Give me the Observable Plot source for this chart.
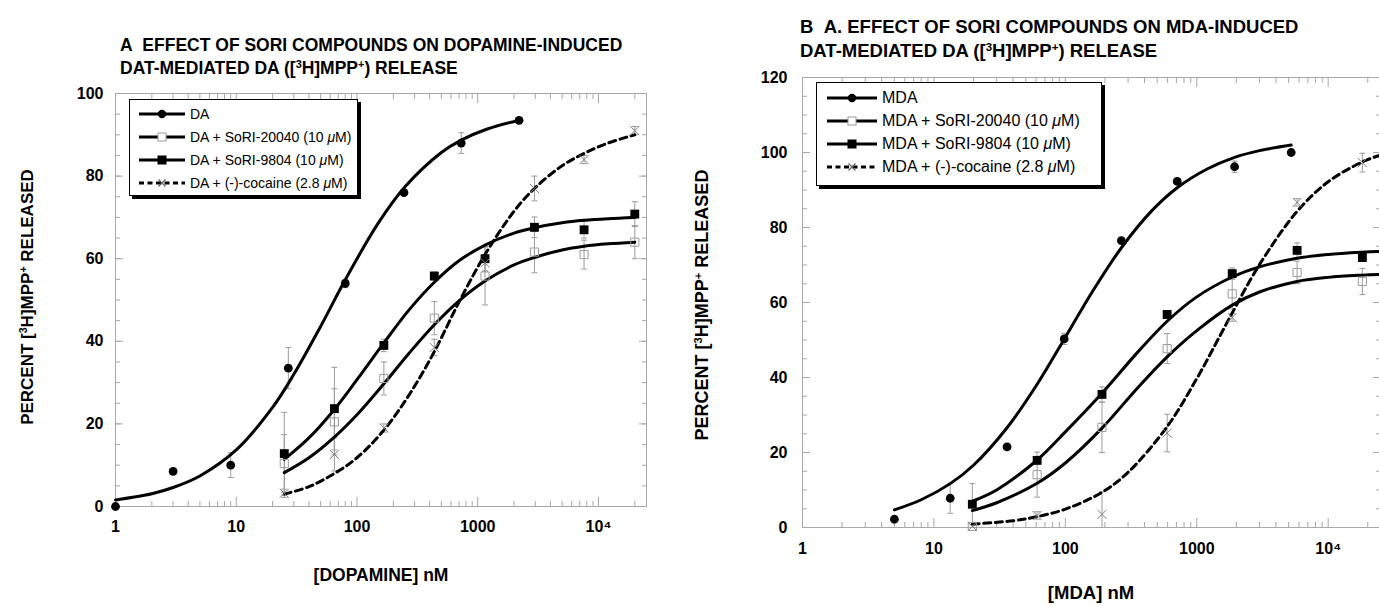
<!DOCTYPE html>
<html>
<head>
<meta charset="utf-8">
<script src="https://cdn.jsdelivr.net/npm/d3@7"></script>
<script src="https://cdn.jsdelivr.net/npm/@observablehq/plot@0.6"></script>
<style>
  html, body { margin: 0; padding: 0; background: #fff; }
  body { width: 1379px; height: 606px; position: relative; overflow: hidden;
         font-family: "Liberation Sans", Arial, Helvetica, sans-serif; color: #000; }
  .abs { position: absolute; white-space: nowrap; }
  .title { font-weight: bold; line-height: 23px; }
  .axis-title { font-weight: bold; line-height: 20px; }
  .sup { font-size: 62%; position: relative; top: -0.55em; }
  .legend { position: absolute; background: #fff; border: 1px solid #000; box-shadow: 3px 3px 0 #000; }
  .legend .txt { position: absolute; white-space: nowrap; line-height: 20px; }
  .legend svg { position: absolute; left: 0; overflow: visible; }
</style>
</head>
<body>
<div id="panelA" class="abs" style="left:0;top:0;width:680px;height:606px"></div>
<div id="panelB" class="abs" style="left:690px;top:0;width:700px;height:606px"></div>

<div class="abs title" style="left:120px;top:34px;font-size:17.5px">A&nbsp;&nbsp;EFFECT OF SORI COMPOUNDS ON DOPAMINE-INDUCED<br>DAT-MEDIATED DA ([<span class="sup">3</span>H]MPP<span class="sup">+</span>) RELEASE</div>
<div class="abs title" style="left:800px;top:15px;font-size:18.5px;line-height:24px">B&nbsp;&nbsp;A. EFFECT OF SORI COMPOUNDS ON MDA-INDUCED<br>DAT-MEDIATED DA ([<span class="sup">3</span>H]MPP<span class="sup">+</span>) RELEASE</div>

<div class="abs axis-title" style="left:381px;top:565px;font-size:17.5px;transform:translateX(-50%)">[DOPAMINE] nM</div>
<div class="abs axis-title" style="left:1091px;top:583px;font-size:18.5px;transform:translateX(-50%)">[MDA] nM</div>

<div class="abs axis-title" style="left:28px;top:297px;font-size:17px;transform:translate(-50%,-50%) rotate(-90deg)">PERCENT [<span class="sup">3</span>H]MPP<span class="sup">+</span> RELEASED</div>
<div class="abs axis-title" style="left:703px;top:305px;font-size:18px;transform:translate(-50%,-50%) rotate(-90deg)">PERCENT [<span class="sup">3</span>H]MPP<span class="sup">+</span> RELEASED</div>

<script>
// ---------------- Panel A: dopamine-induced release (nM, % released) ----------------
const daConc = [1, 3, 9, 27, 80, 245, 730, 2200];
const daVal  = [0, 8.5, 10, 33.5, 54, 76, 88, 93.5];
const daErr  = [0, 0, 3, 5, 1, 0, 2.5, 0];

const inhConcA = [25, 65, 167, 437, 1150, 2950, 7600, 20000];
const sori20040A    = [10.4, 20.5, 31, 45.6, 55.8, 61.6, 61, 64];
const sori20040AErr = [7, 8, 4, 4, 7, 5, 3.5, 4];
const sori9804A     = [12.8, 23.7, 39, 55.8, 60, 67.6, 67, 70.8];
const sori9804AErr  = [10, 10, 1.5, 1, 3, 2.5, 2, 3];
const cocaineA      = [3.2, 12.6, 19, 38.5, 59, 77, 84, 91];
const cocaineAErr   = [1, 4, 1, 2, 2, 3, 1, 1];

// fitted dose-response curves, read at these concentrations
const daFitConc = [1, 2, 3, 5, 10, 20, 30, 50, 80, 150, 250, 500, 730, 1200, 2200];
const daFitVal  = [1.6, 3.1, 4.6, 7.4, 13.7, 24, 32, 43.6, 54.9, 68.6, 77.4, 85.7, 88.7, 91.4, 93.5];
const inhFitConcA = [25, 40, 65, 100, 167, 270, 437, 700, 1150, 2000, 2950, 5000, 7600, 12000, 20000];
const sori20040AFit = [8.2, 11.8, 16.8, 22.2, 29.7, 37.1, 44, 49.8, 54.6, 58.5, 60.3, 62.1, 63, 63.6, 64];
const sori9804AFit  = [11.4, 16.6, 23.5, 30.7, 39.6, 47.6, 54.3, 59.5, 63.3, 66.2, 67.5, 68.7, 69.3, 69.7, 70];
const cocaineAFit   = [3, 4.8, 8, 11.8, 18.5, 27, 37.5, 49.5, 61, 71.5, 77, 82.5, 85.5, 88, 90];

const labelsA = ["DA", "DA + SoRI-20040 (10 μM)", "DA + SoRI-9804 (10 μM)", "DA + (-)-cocaine (2.8 μM)"];

// ---------------- Panel B: MDA-induced release ----------------
const mdaConc = [5, 13.3, 36, 98, 267, 710, 1940, 5230];
const mdaVal  = [2.2, 7.8, 21.5, 50.3, 76.5, 92.3, 96.2, 100];
const mdaErr  = [0, 4, 0, 1.5, 0, 0, 1.5, 0];

const inhConcB = [19.6, 61, 190, 595, 1860, 5800, 18200];
const sori20040B    = [0.3, 14.1, 26.7, 47.7, 62.3, 68, 65.6];
const sori20040BErr = [0, 6, 6.7, 4, 4, 3, 3.5];
const sori9804B     = [6.2, 17.9, 35.5, 56.8, 67.7, 73.9, 72];
const sori9804BErr  = [5.5, 1, 2, 1, 1.5, 2, 1];
const cocaineB      = [0.3, 3.2, 3.5, 25.2, 56, 86.7, 97.3];
const cocaineBErr   = [0, 1, 6, 5, 1, 1, 2.5];

const mdaFitConc = [5, 8, 13.3, 20, 36, 60, 98, 160, 267, 450, 710, 1200, 1940, 3000, 5230];
const mdaFitVal  = [4.7, 7.4, 11.7, 16.6, 26.6, 37.8, 50.2, 62.8, 74.6, 84.3, 90.6, 95.6, 98.7, 100.5, 102];
const inhFitConcB = [19.6, 30, 61, 100, 190, 350, 595, 1000, 1860, 3000, 5800, 10000, 18200, 25000];
const sori20040BFit = [4.5, 6.6, 11.8, 17.2, 26.5, 37, 45.5, 52.5, 59.3, 62.8, 65.6, 66.7, 67.3, 67.5];
const sori9804BFit  = [7, 10, 18, 25.5, 35.8, 46.5, 55, 61.5, 66.8, 69.5, 71.8, 72.8, 73.4, 73.6];
const cocFitConcB = [19.6, 40, 61, 100, 190, 300, 595, 1000, 1500, 1860, 3000, 5800, 10000, 18200, 25000];
const cocaineBFit = [0.9, 1.8, 2.9, 4.9, 9.4, 14.7, 26.9, 39.7, 51.1, 57.2, 70.1, 84.3, 92.2, 97.5, 99.3];

const labelsB = ["MDA", "MDA + SoRI-20040 (10 μM)", "MDA + SoRI-9804 (10 μM)", "MDA + (-)-cocaine (2.8 μM)"];

// ---------------- axis ticks ----------------
const xMajor = [1, 10, 100, 1000, 10000];
const xMinor = xMajor.flatMap(d => [2, 3, 4, 5, 6, 7, 8, 9].map(k => k * d)).filter(v => v <= 25000);
const xFormat = d => d === 10000 ? "10⁴" : String(d);

// ---------------- drawing ----------------
const GRAY = "#9c9c9c";
const TICK = "#a8a8a8";
const hbar = {draw(ctx, size) { const r = Math.sqrt(size / Math.PI); ctx.moveTo(-r, 0); ctx.lineTo(r, 0); }};

const markers = {
  circle:       {symbol: "circle", r: 4.4, fill: "#000", stroke: "none"},
  openSquare:   {symbol: "square", r: 4.6, fill: "none", stroke: GRAY, strokeWidth: 1},
  filledSquare: {symbol: "square", r: 5, fill: "#000", stroke: "none"},
  times:        {symbol: "times", r: 4.2, fill: "none", stroke: "#808080", strokeWidth: 1}
};

const rows = (conc, val, err) => conc.map((c, i) => ({c, v: val[i], e: err ? err[i] : 0}));

function panel({width, height, marginLeft, marginRight, marginTop, marginBottom, yMax, series, xPad, yPad}) {
  const yMajor = d3.range(0, yMax + 1, 20);
  const yMinor = d3.range(0, yMax + 1, 5);
  const marks = [
    Plot.frame({stroke: TICK}),
    Plot.axisX({ticks: xMinor, anchor: "bottom", tickSize: -5, stroke: TICK, fill: "none", label: null}),
    Plot.axisX({ticks: xMajor, anchor: "bottom", tickSize: -9, stroke: TICK, fill: "none", label: null}),
    Plot.axisX({ticks: xMinor, anchor: "top", tickSize: -5, stroke: TICK, fill: "none", label: null}),
    Plot.axisX({ticks: xMajor, anchor: "top", tickSize: -9, stroke: TICK, fill: "none", label: null}),
    Plot.axisY({ticks: yMinor, anchor: "left", tickSize: -5, stroke: TICK, fill: "none", label: null}),
    Plot.axisY({ticks: yMajor, anchor: "left", tickSize: -8, stroke: TICK, fill: "none", label: null}),
    Plot.axisY({ticks: yMinor, anchor: "right", tickSize: -5, stroke: TICK, fill: "none", label: null}),
    Plot.axisY({ticks: yMajor, anchor: "right", tickSize: -8, stroke: TICK, fill: "none", label: null}),
    Plot.axisX({ticks: xMajor, anchor: "bottom", tickSize: 0, tickPadding: xPad, tickFormat: xFormat, label: null}),
    Plot.axisY({ticks: yMajor, anchor: "left", tickSize: 0, tickPadding: yPad, label: null})
  ];
  for (const s of series) {
    const pts = rows(s.conc, s.val, s.err).filter(d => d.e > 0);
    marks.push(
      Plot.ruleX(pts, {x: "c", y1: d => Math.max(0, d.v - d.e), y2: d => d.v + d.e, stroke: GRAY, strokeWidth: 1}),
      Plot.dot(pts, {x: "c", y: d => d.v + d.e, symbol: hbar, r: 3, stroke: GRAY, strokeWidth: 1}),
      Plot.dot(pts.filter(d => d.v - d.e > 0), {x: "c", y: d => d.v - d.e, symbol: hbar, r: 3, stroke: GRAY, strokeWidth: 1})
    );
  }
  for (const s of series) {
    marks.push(Plot.line(rows(s.fitConc, s.fitVal), {
      x: "c", y: "v", stroke: "#000", strokeWidth: 3, curve: "catmull-rom",
      strokeDasharray: s.dashed ? "7,4.5" : null
    }));
  }
  for (const s of series) {
    marks.push(Plot.dot(rows(s.conc, s.val), {x: "c", y: "v", ...markers[s.marker]}));
  }
  return Plot.plot({
    width, height, marginLeft, marginRight, marginTop, marginBottom,
    x: {type: "log", domain: [1, 25000]},
    y: {domain: [0, yMax]},
    style: {fontFamily: "'Liberation Sans', Arial, sans-serif", fontSize: "16px", fontWeight: "bold",
            color: "#000", background: "transparent", overflow: "visible", maxWidth: "none"},
    marks
  });
}

const seriesA = [
  {conc: daConc, val: daVal, err: daErr, fitConc: daFitConc, fitVal: daFitVal, marker: "circle"},
  {conc: inhConcA, val: sori20040A, err: sori20040AErr, fitConc: inhFitConcA, fitVal: sori20040AFit, marker: "openSquare"},
  {conc: inhConcA, val: sori9804A, err: sori9804AErr, fitConc: inhFitConcA, fitVal: sori9804AFit, marker: "filledSquare"},
  {conc: inhConcA, val: cocaineA, err: cocaineAErr, fitConc: inhFitConcA, fitVal: cocaineAFit, marker: "times", dashed: true}
];
const seriesB = [
  {conc: mdaConc, val: mdaVal, err: mdaErr, fitConc: mdaFitConc, fitVal: mdaFitVal, marker: "circle"},
  {conc: inhConcB, val: sori20040B, err: sori20040BErr, fitConc: inhFitConcB, fitVal: sori20040BFit, marker: "openSquare"},
  {conc: inhConcB, val: sori9804B, err: sori9804BErr, fitConc: inhFitConcB, fitVal: sori9804BFit, marker: "filledSquare"},
  {conc: inhConcB, val: cocaineB, err: cocaineBErr, fitConc: cocFitConcB, fitVal: cocaineBFit, marker: "times", dashed: true}
];

document.getElementById("panelA").append(panel({
  width: 680, height: 606, marginLeft: 115, marginRight: 34, marginTop: 93, marginBottom: 100,
  yMax: 100, series: seriesA, xPad: 14, yPad: 12
}));
document.getElementById("panelB").append(panel({
  width: 700, height: 606, marginLeft: 112, marginRight: 10, marginTop: 77, marginBottom: 79,
  yMax: 120, series: seriesB, xPad: 15, yPad: 15
}));

// ---------------- legends ----------------
function legend({left, top, width, height, rowTop, rowGap, lineX0, lineX1, textX, fontSize}, labels, series) {
  const box = document.createElement("div");
  box.className = "legend";
  Object.assign(box.style, {left: left + "px", top: top + "px", width: width + "px", height: height + "px"});
  labels.forEach((label, i) => {
    const cy = rowTop + i * rowGap;
    const s = series[i];
    const svg = d3.create("svg").attr("width", lineX1 + 4).attr("height", 20).style("top", (cy - 10) + "px");
    svg.append("line").attr("x1", lineX0).attr("x2", lineX1).attr("y1", 10).attr("y2", 10)
      .attr("stroke", "#000").attr("stroke-width", 3).attr("stroke-dasharray", s.dashed ? "5,3.5" : null);
    const mx = (lineX0 + lineX1) / 2;
    if (s.marker === "circle") svg.append("circle").attr("cx", mx).attr("cy", 10).attr("r", 4.2).attr("fill", "#000");
    if (s.marker === "openSquare") svg.append("rect").attr("x", mx - 4).attr("y", 6).attr("width", 8).attr("height", 8)
      .attr("fill", "#fff").attr("stroke", GRAY);
    if (s.marker === "filledSquare") svg.append("rect").attr("x", mx - 4.5).attr("y", 5.5).attr("width", 9).attr("height", 9).attr("fill", "#000");
    if (s.marker === "times") svg.append("path").attr("d", `M${mx - 3.5},6.5L${mx + 3.5},13.5M${mx - 3.5},13.5L${mx + 3.5},6.5`)
      .attr("stroke", "#666").attr("stroke-width", 1.2).attr("fill", "none");
    box.append(svg.node());
    const t = document.createElement("div");
    t.className = "txt";
    t.style.left = textX + "px";
    t.style.top = (cy - 10) + "px";
    t.style.fontSize = fontSize + "px";
    t.innerHTML = label.replace(/μ/g, "<i>μ</i>");
    box.append(t);
  });
  document.body.append(box);
}

legend({left: 129, top: 99, width: 227, height: 95, rowTop: 14, rowGap: 23, lineX0: 9, lineX1: 55, textX: 60, fontSize: 14}, labelsA, seriesA);
legend({left: 816, top: 82, width: 284, height: 102, rowTop: 15, rowGap: 23, lineX0: 10, lineX1: 60, textX: 65, fontSize: 16}, labelsB, seriesB);
</script>
</body>
</html>
